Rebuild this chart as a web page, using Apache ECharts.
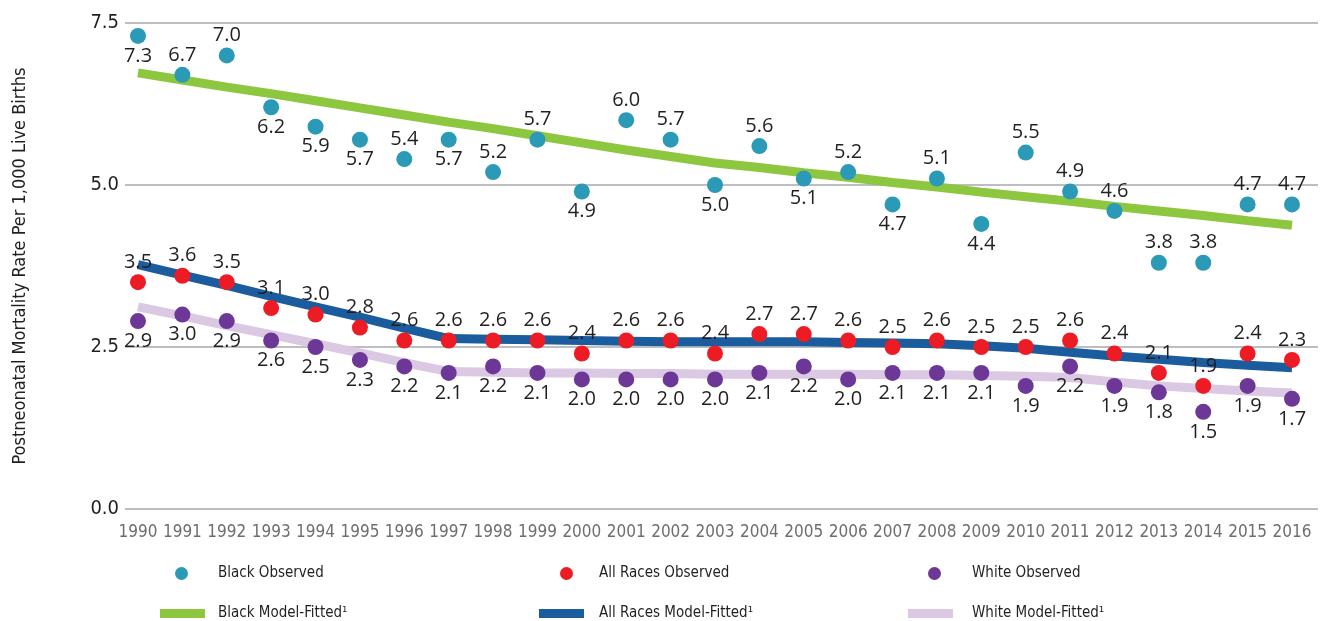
<!DOCTYPE html>
<html>
<head>
<meta charset="utf-8">
<script src="https://cdn.jsdelivr.net/npm/echarts@6/dist/echarts.min.js"></script>
<style>
  html, body { margin: 0; padding: 0; background: #fff; }
  #chart { width: 1339px; height: 621px; }
</style>
</head>
<body>
<div id="chart"></div>
<script>
// data
var years = ['1990', '1991', '1992', '1993', '1994', '1995', '1996', '1997', '1998', '1999',
  '2000', '2001', '2002', '2003', '2004', '2005', '2006', '2007', '2008', '2009',
  '2010', '2011', '2012', '2013', '2014', '2015', '2016'];

var blackObserved = [7.3, 6.7, 7.0, 6.2, 5.9, 5.7, 5.4, 5.7, 5.2, 5.7, 4.9, 6.0, 5.7, 5.0,
  5.6, 5.1, 5.2, 4.7, 5.1, 4.4, 5.5, 4.9, 4.6, 3.8, 3.8, 4.7, 4.7];
var allObserved = [3.5, 3.6, 3.5, 3.1, 3.0, 2.8, 2.6, 2.6, 2.6, 2.6, 2.4, 2.6, 2.6, 2.4,
  2.7, 2.7, 2.6, 2.5, 2.6, 2.5, 2.5, 2.6, 2.4, 2.1, 1.9, 2.4, 2.3];
var whiteObserved = [2.9, 3.0, 2.9, 2.6, 2.5, 2.3, 2.2, 2.1, 2.2, 2.1, 2.0, 2.0, 2.0, 2.0,
  2.1, 2.2, 2.0, 2.1, 2.1, 2.1, 1.9, 2.2, 1.9, 1.8, 1.5, 1.9, 1.7];

// model-fitted values
var blackFitted = [6.73, 6.62, 6.51, 6.41, 6.30, 6.19, 6.08, 5.97, 5.87, 5.76, 5.65, 5.54,
  5.44, 5.34, 5.27, 5.19, 5.12, 5.04, 4.97, 4.89, 4.82, 4.75, 4.67, 4.60, 4.53, 4.45, 4.38];
var allFitted = [3.77, 3.61, 3.45, 3.28, 3.12, 2.96, 2.79, 2.63, 2.62, 2.61, 2.60, 2.59,
  2.58, 2.58, 2.58, 2.58, 2.57, 2.56, 2.55, 2.52, 2.48, 2.42, 2.36, 2.31, 2.26, 2.22, 2.18];
var whiteFitted = [3.12, 2.98, 2.83, 2.69, 2.55, 2.41, 2.26, 2.12, 2.11, 2.10, 2.10, 2.09,
  2.09, 2.08, 2.08, 2.08, 2.08, 2.07, 2.07, 2.06, 2.05, 2.03, 1.96, 1.90, 1.86, 1.82, 1.79];

// which side of the dot the black label sits on
var blackLabelSide = ['bottom', 'top', 'top', 'bottom', 'bottom', 'bottom', 'top', 'bottom',
  'top', 'top', 'bottom', 'top', 'top', 'bottom', 'top', 'bottom', 'top', 'bottom', 'top',
  'bottom', 'top', 'top', 'top', 'top', 'top', 'top', 'top'];

var narrow = "'DejaVu Sans Condensed', 'Liberation Sans Narrow', sans-serif";
var dark = '#231f20';

function dotLabel(pos) {
  return {
    show: true,
    position: pos,
    distance: 2,
    fontFamily: "'Open Sans', sans-serif",
    fontSize: 20,
    color: dark,
    formatter: function (p) { return p.value.toFixed(1); }
  };
}

function observed(name, values, color, pos) {
  return {
    name: name,
    type: 'scatter',
    xAxisIndex: 1,
    yAxisIndex: 1,
    symbolSize: 16,
    z: 5,
    itemStyle: { color: color, opacity: 1 },
    label: dotLabel(pos),
    data: values
  };
}

function fitted(name, values, color) {
  return {
    name: name,
    type: 'line',
    xAxisIndex: 1,
    yAxisIndex: 1,
    showSymbol: false,
    symbol: 'none',
    z: 2,
    itemStyle: { color: color },
    lineStyle: { color: color, width: 9 },
    data: values
  };
}

function legendItem(name, left, top, icon, w, h, pad) {
  return {
    data: [name],
    left: left,
    top: top,
    padding: 0,
    icon: icon,
    itemWidth: w,
    itemHeight: h,
    selectedMode: false,
    textStyle: { fontFamily: narrow, fontSize: 15, color: dark, padding: [0, 0, 0, pad] }
  };
}

var myChart = echarts.init(document.getElementById('chart'));
var option;

option = {
  animation: false,
  backgroundColor: '#fff',
  grid: [
    { left: 125, right: 21, top: 23, bottom: 112 },
    { left: 138, right: 47, top: 23, bottom: 112 }
  ],
  legend: [
    legendItem('Black Observed', 175, 566, 'circle', 13, 13, 25),
    legendItem('All Races Observed', 560, 566, 'circle', 13, 13, 21),
    legendItem('White Observed', 928, 566, 'circle', 13, 13, 26),
    legendItem('Black Model-Fitted¹', 160, 606, 'rect', 45, 9, 8),
    legendItem('All Races Model-Fitted¹', 539, 606, 'rect', 45, 9, 10),
    legendItem('White Model-Fitted¹', 908, 606, 'rect', 45, 9, 14)
  ],
  xAxis: [
    { type: 'value', gridIndex: 0, show: false, min: 0, max: 1 },
    {
      type: 'category',
      gridIndex: 1,
      data: years,
      boundaryGap: false,
      axisLine: { show: false },
      axisTick: { show: false },
      axisLabel: { interval: 0, margin: 15, fontFamily: narrow, fontSize: 17, color: '#6d6e71' }
    }
  ],
  yAxis: [
    {
      type: 'value',
      gridIndex: 0,
      min: 0,
      max: 7.5,
      interval: 2.5,
      name: 'Postneonatal Mortality Rate Per 1,000 Live Births',
      nameLocation: 'middle',
      nameGap: 96,
      nameTextStyle: { fontFamily: narrow, fontSize: 18, color: dark },
      axisLine: { show: false },
      axisTick: { show: false },
      axisLabel: {
        margin: 6,
        fontFamily: narrow,
        fontSize: 20,
        color: dark,
        formatter: function (v) { return v.toFixed(1); }
      },
      splitLine: { show: true, lineStyle: { color: '#a7a9ac', width: 1.5 } }
    },
    { type: 'value', gridIndex: 1, min: 0, max: 7.5, show: false, splitLine: { show: false } }
  ],
  series: [
    fitted('Black Model-Fitted¹', blackFitted, '#8dc63f'),
    fitted('All Races Model-Fitted¹', allFitted, '#1a5c9e'),
    fitted('White Model-Fitted¹', whiteFitted, '#dbc8e2'),
    observed('Black Observed', blackObserved.map(function (v, i) {
      return { value: v, label: { position: blackLabelSide[i] } };
    }), '#2b9ab7', 'top'),
    observed('All Races Observed', allObserved, '#ed1c24', 'top'),
    observed('White Observed', whiteObserved, '#6c3796', 'bottom')
  ]
};

option && myChart.setOption(option);
window.onresize = myChart.resize;
</script>
</body>
</html>
